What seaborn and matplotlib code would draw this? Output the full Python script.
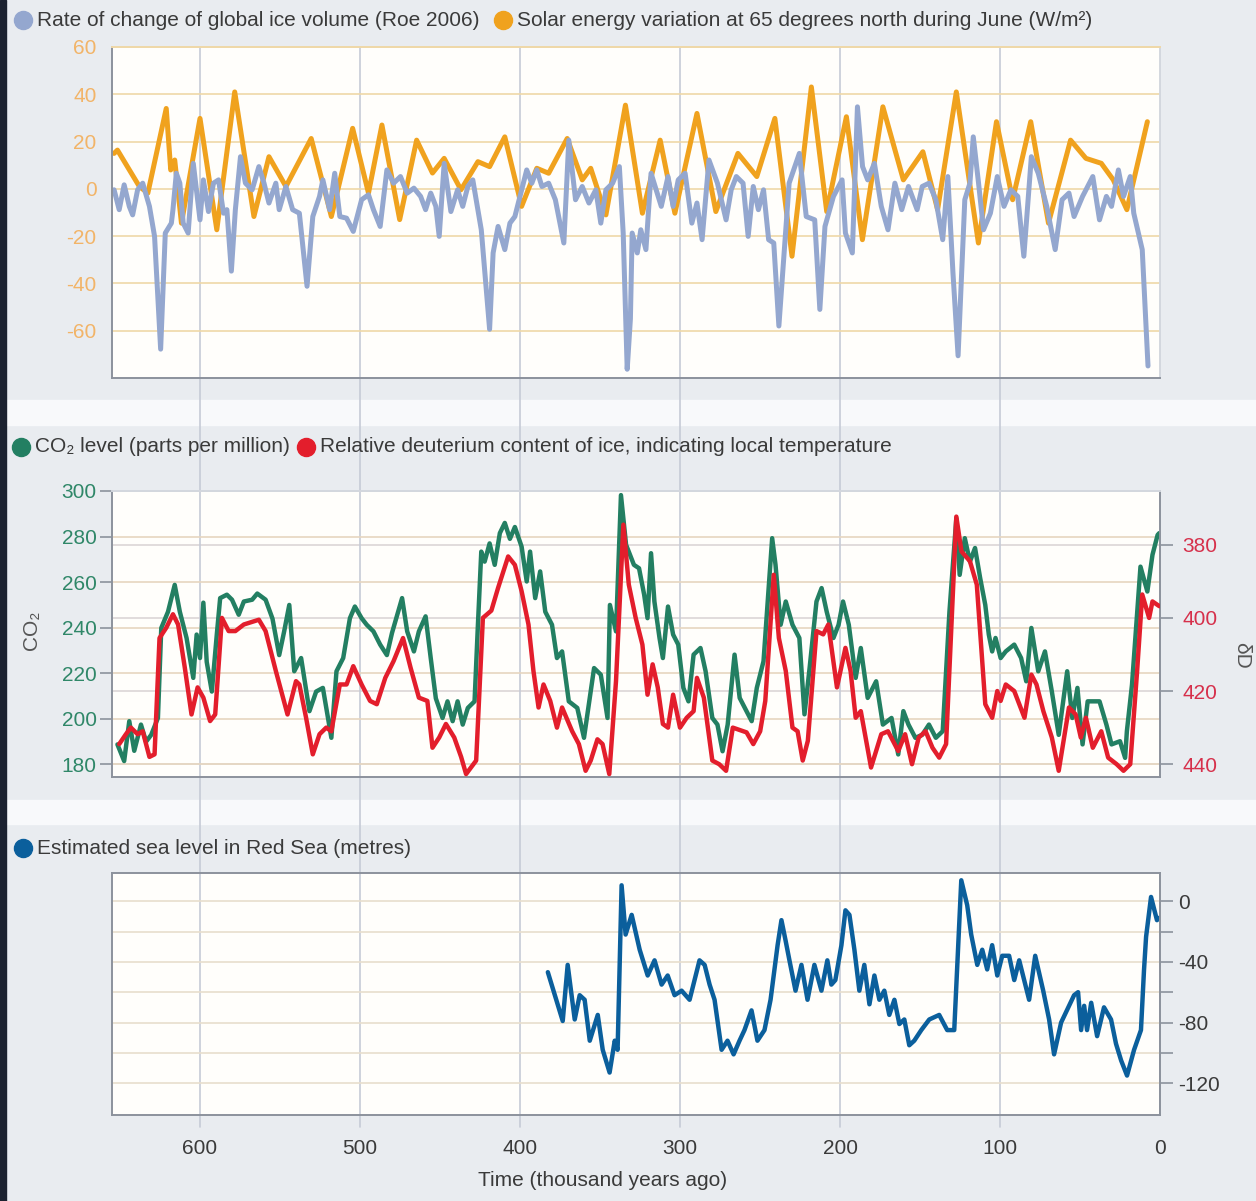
import numpy as np
import pandas as pd
import seaborn as sns
import matplotlib.pyplot as plt
from matplotlib.lines import Line2D
from matplotlib.patches import Rectangle
import matplotlib.transforms as mtransforms

# ---- data (thousand years ago) ----
solar_t = [653.7, 651.6, 637.9, 632.6, 621.1, 618.3, 615.8, 611.6, 600, 589.5, 578.3, 566.3,
           556.9, 546.3, 530.5, 517.9, 504.6, 494.7, 486.3, 475.2, 464.6, 454.7, 447.4, 436.9,
           426.3, 419, 409.5, 399, 389.5, 382.1, 370.5, 361.1, 355.8, 346.3, 334.1,
           323.5, 312.4, 303.2, 289.4, 277.6, 263.8, 252, 240.7, 230, 217.9, 208.3, 196, 186,
           173.2, 160.4, 148.2, 139, 127.3, 113.5, 102.2, 92.1, 80.8, 69.7, 55.9, 46.3, 36.7,
           29.2, 20.7, 7.9]
solar_v = [15, 16.4, 1, -1.8, 34, 8, 12.2, -14.5, 29.8, -17.3, 41, -11.7, 13.6, 1, 21.3, -11.7,
           25.6, -1.8, 27, -13, 20.6, 6.7, 12.9, -0.4, 11.5, 9.4, 22, -7.4, 8.7, 6.6, 21.3, 3.8,
           8.7, -11, 35.4,
           -10.3, 20.6, -10.3, 31.9, -9.6, 15, 5.2, 29.8, -28.5, 43.1, -9.6, 30.5, -21.5, 34.7,
           3.8, 15.7, -8.8, 41, -22.9, 28.4, -4.6, 28.4, -14.5, 20.6, 12.9, 10.8, 3.8, -8.8, 28.4]

ice_t = [653.7, 650.5, 647.4, 644.2, 642.1, 639, 635.8, 631.6, 628.4, 624.6, 621.7, 617.9, 616.9,
         614.8, 612.6, 610.5, 607.4, 604.2, 600, 597.9, 594.7, 591.6, 588.4, 585.3, 583.2, 580.4,
         577.9, 574.7, 571.6, 567.4, 563.2, 560, 556.9, 552.6, 550.5, 546.3, 542.1, 537.9, 533.1,
         529.5, 525.3, 523.2, 519, 515.8, 512.6, 508.4, 504.2, 499, 494.7, 491.6, 487.4, 483.2,
         479, 474.7, 470.5, 466.3, 462.1, 459, 455.8, 452.6, 450.5, 447.4, 443.2, 439, 435.8,
         432.6, 429.5, 424.2, 419, 416.8, 413.7, 409.5, 406.3, 403.2, 400, 395.8, 392.6, 389.5,
         386.3, 382.1, 377.9, 372.6, 369.5, 365.3, 361.1, 356.9, 352.6, 349.5, 346.3, 342.1,
         337.9, 335.5, 333, 331,
         329.9, 326.7, 324.5, 321.3, 318.1, 314.9, 311.7, 307.5, 304.3, 301.1, 296.8, 292.6,
         289.4, 286.2, 281.9, 276.6, 271.2, 268, 264.8, 260.6, 257.4, 254.2, 251, 247.8, 244.6,
         241.4, 238.2, 231.8, 225.4, 221.1, 215.8, 212.6, 209.4, 204.1, 198.7, 196.6, 192.3,
         189.1, 185.9, 182.7, 178.5, 174.2, 170, 165.7, 161.4, 157.2, 151.8, 148.6, 144.4, 140.1,
         135.8, 132.6, 129.4, 126.2, 122, 118.8, 116.7, 113.4, 110.3, 106, 101.7, 97.5, 93.2,
         88.9, 85.1, 80.4, 76.1, 70.8, 65.5, 61.2, 56.9, 53.7, 48.4, 42, 37.8, 33.5, 30.3, 26,
         22.8, 18.6, 16.4, 11.1, 7.5]
ice_v = [-0.4, -8.8, 1.7, -7.4, -11, -0.4, 2.4, -7.4, -20.1, -67.8, -18.7, -14.5, -8.8, 6.6,
         2.4, -14.5, -18.7, 10.8, -13.1, 3.8, -9.6, 2.4, 3.8, -10.3, -8.8, -34.8, -8.8, 13.6,
         2.4, -0.4, 9.4, 2.4, -6, 2.4, -8.8, 1, -8.8, -10.3, -41.2, -11.7, -3.2, 3.8, -8.8, 6.6,
         -11.7, -12.4, -18, -4.6, -2.5, -8.8, -15.9, 8, 2.4, 5.2, -1.8, 0.3, -3.2, -8.8, -1.8,
         -7.4, -20.1, 10.8, -9.6, -0.4, -7.4, 1, 3.8, -17.3, -59.4, -27.1, -15.9, -25.7, -14.5,
         -11.7, -3.2, 8, 2.4, 8, 1, 2.4, -4.6, -22.9, 20.6, -4.6, 1, -6, -0.4, -14.5, -0.4, 2.4,
         9.4, -18.7, -76.3, -55,
         -18.7, -27.1, -17.3, -25.7, 6.6, -0.4, -7.4, 5.2, -7.4, 3.8, 6.6, -14.5, -6, -21.5,
         12.2, 2.4, -13.1, -0.4, 5.2, 2.4, -20.1, 1, -8.8, -0.4, -21.5, -22.9, -58, 2.4, 15,
         -11.7, -13.1, -51, -15.9, -3.2, 3.8, -18.7, -27.1, 34.7, 9.4, 3.8, 10.8, -7.4, -17.3,
         2.4, -8.8, 1, -8.8, 1, 2.4, -4.6, -21.5, 5.2, -35.5, -70.6, -4.6, 2.4, 22, 2.4, -17.3,
         -10.3, 5.2, -7.4, -0.4, -3.2, -28.5, 13.6, 6.6, -7.4, -25.7, -4.6, -1.8, -11.7, -3.2,
         5.2, -13.1, -3.2, -7.4, 8, -3.2, 5.2, -10.3, -25.7, -74.9]

co2_t = [651.6, 647.4, 644.2, 641.1, 636.9, 633.7, 630.5, 626.3, 624.2, 620, 615.8, 612.6, 608.4,
         604.2, 602.1, 600, 597.9, 595.8, 592.6, 589.5, 587.4, 583.2, 580, 575.8, 572.6, 567.4,
         564.2, 559, 554.7, 550.5, 547.4, 544.2, 541.1, 536.8, 531.6, 527.4, 523.2, 517.9, 514.7,
         510.5, 506.3, 503.2, 499, 495.8, 491.6, 487.4, 483.2, 480, 473.7, 470.5, 466.3, 463.2,
         459, 455.8, 452.6, 448.4, 445.3, 442.1, 439, 435.8, 432.6, 428.4, 426.3, 424.2, 422.1,
         419, 415.8, 412.6, 409.5, 406.3, 403.2, 399, 395.8, 393.7, 390.5, 387.4, 384.2, 380,
         376.9, 373.7, 369.5, 364.2, 360, 353.7, 349.5, 345.3, 343.8, 340, 336.9, 333.7,
         328.8, 325.6, 322.4, 320.3, 318.1, 316, 312.8, 310.7, 307.5, 304.3, 301.1, 297.9, 294.7,
         291.5, 287.2, 284, 279.8, 276.6, 273.4, 270.2, 265.9, 262.7, 258.4, 255.2, 252, 247.8,
         242.4, 240.3, 237.1, 233.9, 229.7, 225.4, 222.2, 219, 214.7, 211.5, 208.3, 204.1, 200.9,
         198.1, 194.5, 190.2, 187, 182.7, 177.4, 173.2, 167.8, 163.6, 160.4, 157.2, 152.9, 148.6,
         144.4, 140.1, 135.8, 131.6, 127.3, 125.2, 122, 118.8, 115.6, 112.4, 109.2, 107, 104.9,
         102.8, 99.6, 96.4, 91.1, 86.8, 83.6, 80.4, 76.1, 71.9, 67.6, 63.3, 58, 54.8, 51.6, 48.4,
         45.2, 37.8, 33.5, 30.3, 25, 21.8, 20.7, 17.5, 12.2, 7.9, 4.7, 1.5, 0.5]
co2_v = [188.8, 181.5, 199, 186, 197.5, 190, 193, 200.4, 239.9, 247, 258.8, 247, 235.5, 218, 237,
         226.7, 251, 225, 212, 237, 253, 254.5, 252.3, 245.7, 251.5, 252.3, 255, 252.3, 244, 228,
         238.4, 250, 220.9, 226.7, 203.4, 212, 213.6, 191.7, 220.9, 226.7, 244.2, 249.3, 244.2,
         241.3, 238.4, 232.6, 228, 237.7, 253, 238.4, 229.6, 238.4, 245, 226.7, 209, 200.4,
         207.7, 199, 207.7, 197.5, 204.8, 207.7, 241.3, 273.4, 269, 277, 267.6, 281.5, 286, 279,
         284.2, 275.6, 260.3, 273.4, 253, 264.7, 247, 241.3, 226.7, 229.6, 207.7, 204.8, 191.7,
         222.3, 219.4, 200.4, 250, 238.4, 298.2, 276.4,
         267.6, 266.1, 254.5, 244.2, 272.7, 251.5, 235.5, 226.7, 249.3, 237, 232.6, 213.6,
         207.7, 228.2, 231.1, 220.9, 200.4, 197.5, 185.8, 197.5, 228.2, 209.2, 203.4, 199,
         213.6, 225.3, 279.3, 267.6, 241.3, 251.5, 241.3, 235.5, 202, 222.3, 251.5, 257.4, 247,
         235.5, 241.3, 251.5, 241.3, 218, 231.1, 209.2, 216.5, 197.5, 200.4, 184.4, 203.4,
         197.5, 191.7, 193, 197.5, 191.7, 194.6, 247, 288, 263.2, 279.3, 269, 275, 261.8, 250,
         237, 229.6, 235.5, 226.7, 229.6, 232.6, 226.7, 216.5, 239.9, 220.9, 229.6, 212, 193,
         220.9, 200.4, 213.6, 188.8, 207.7, 207.7, 197.5, 188.8, 190.2, 182.9, 194.6, 215,
         266.8, 255.9, 272, 280.7, 281.5]

dd_t = [650.5, 646.3, 643.2, 639, 635.8, 631.6, 628.4, 625.3, 621.1, 616.9, 613.7, 609.5, 605.3,
        601.5, 597.9, 593.7, 590.5, 586.3, 582.1, 577.9, 572.6, 563.2, 559, 552.6, 545.3, 540,
        537.9, 533.7, 529.5, 525.3, 521.1, 517.9, 512.6, 508.4, 504.2, 499, 493.7, 489.5, 484.2,
        479, 473.1, 468.4, 463.2, 457.9, 454.7, 450.5, 446.3, 441.1, 436.8, 433.7, 427.4, 423.2,
        417.9, 413.7, 407.4, 403.2, 399, 394.7, 391.6, 388.4, 385.3, 381.1, 376.9, 373.7, 367.4,
        363.2, 359, 355.8, 351.6, 348.4, 344.2, 340, 335.4,
        332, 327.7, 323.5, 320.3, 317.1, 313.9, 310.7, 307.5, 304.3, 300, 295.8, 291.5, 289.4,
        285.1, 279.8, 275.5, 271.2, 267, 258.4, 254.2, 249.9, 246.7, 241.4, 238.2, 233.9, 229.7,
        226.5, 223.3, 220.1, 214.7, 210.5, 207.3, 201.9, 196.6, 193.4, 190.2, 187, 180.6, 174.2,
        170, 163.6, 159.3, 155, 150.8, 146.5, 142.2, 138, 133.7, 127.3, 124.1, 118.8, 114.5,
        109.2, 104.9, 101.7, 99.6, 96.4, 91.1, 84.7, 80.4, 77.2, 72.9, 67.6, 63.3, 56.9, 52.7,
        49.5, 46.3, 42, 36.7, 32.4, 27.1, 22.8, 18.6, 14.3, 11.1, 6.8, 4.7, 0.4]
dd_v = [434.5, 431.8, 430, 431.8, 431, 438, 437.3, 405.5, 402.7, 399, 401.8, 413.6, 426.4, 419,
        421.8, 428.2, 426.4, 400, 403.6, 403.6, 401.8, 400.5, 403.6, 414.5, 426.4, 417.3, 418.2,
        427.3, 437.3, 431.8, 430, 431, 418.2, 418.2, 413.2, 418.2, 422.7, 423.6, 416.4, 411.8,
        405.5, 413.6, 421.8, 422.7, 435.5, 432.7, 429, 432.7, 438, 442.7, 439, 400, 398, 391.8,
        383.2, 385.5, 392.7, 401.8, 414.5, 424.5, 418.2, 422.7, 430, 424.5, 431, 434.5, 441.8,
        439, 433.2, 434.5, 442.7, 417.3, 374.5,
        390.9, 400, 407.3, 421, 412.7, 419, 429, 430, 421, 430, 427.3, 425.5, 416.4, 421.8, 439,
        440, 441.8, 430, 431.3, 434.5, 431, 422.7, 388.2, 405.5, 414.5, 430, 431, 439, 433.6,
        403.6, 404.5, 401.8, 419, 408.2, 414.5, 427.3, 425.5, 440.9, 431.8, 431, 436.4, 431.8,
        440, 432.7, 431, 435.5, 438.2, 434.5, 372.3, 381.8, 384.5, 390.9, 423.6, 427.3, 420,
        422.7, 418.2, 420, 427.3, 415.5, 418.2, 425.5, 432.7, 441.8, 424.5, 426.4, 432.7, 427.3,
        435.5, 431, 438.2, 440, 441.8, 440, 414.5, 393.6, 400, 395.5, 396.8]

sea_t = [382.6, 373.3, 370.2, 365.8, 362.7, 359.6, 356.4, 351.4, 348.3, 344, 340.8, 339, 336.5,
         334, 330.2, 325.2, 320.2, 315.9, 311.5, 307.7, 303.4, 299, 294, 287.8, 284.6, 281.5,
         278.4, 274, 270.3, 266.5, 262.8, 259.7, 255.3, 251.6, 247.2, 243.4, 239, 236.6, 234,
         231.6, 227.8, 224.1, 220.3, 216, 211.6, 207.9, 205.4, 202.9, 199.1, 196.6, 194.1, 191,
         187.9, 184.8, 181.6, 178.5, 175.4, 172.3, 169.2, 166, 162.9, 159.8, 156.7, 153.6, 149.2,
         144.2, 138, 133, 128.6, 124.2, 120.5, 118, 114.2, 111.1, 108, 104.9, 101.7, 98.6, 94.3,
         91.1, 88, 84.9, 81.8, 78, 73, 69.3, 66.2, 61.8, 53.7, 51.2, 49.3, 47.4, 45.6, 43, 39.3,
         35, 30.6, 27.5, 24.3, 20.6, 16.2, 11.9, 10, 8.7, 5.6, 1.9, 0.6]
sea_v = [-46.8, -79, -42, -78, -62, -65, -92, -75, -98, -113, -92, -98, 10.5, -22, -9, -32, -49,
         -39, -55, -49, -62, -59, -65, -39, -42, -55, -65, -98, -92, -101, -92, -85, -72, -92, -85,
         -65, -29, -12.5, -26, -39, -59, -42, -65, -42, -59, -39, -55, -52, -29, -6, -9, -32, -59,
         -42, -68, -49, -65, -59, -75, -65, -81, -78, -95, -92, -85, -78, -75, -85, -85, 13.8,
         -2.6, -22, -42, -32, -45, -29, -49, -36, -36, -52, -39, -52, -65, -36, -59, -78, -101,
         -80, -62, -60, -85, -69, -85, -67, -89, -70, -78, -94, -105, -115, -98, -85, -45.5,
         -23.5, 2.8, -12.5, -11]

time_ticks = [600, 500, 400, 300, 200, 100, 0]

# ---- styling ----
sns.set_style("white")
plt.rcParams['font.family'] = ['Liberation Sans', 'DejaVu Sans']
plt.rcParams['axes.unicode_minus'] = False

W, H = 1256, 1201
fx = lambda px: px / W
fy = lambda py: 1 - py / H

BG = '#e9ecf0'
GRIDV = '#c6cbd6'
SPINE = '#8c929c'
TXT = '#3a3a3a'
FS = 15

fig = plt.figure(figsize=(W / 100, H / 100), dpi=100)
fig.patch.set_facecolor(BG)
for top, bot in [(400, 425), (800, 824)]:
    fig.add_artist(Rectangle((0, fy(bot)), 1, (bot - top) / H, transform=fig.transFigure,
                             color='#f8f9fb', zorder=-3))
fig.add_artist(Rectangle((0, 0), 6 / W, 1, transform=fig.transFigure, color='#1c2230', zorder=-3))


def make_ax(top, bot):
    ax = fig.add_axes([fx(112), fy(bot), fx(1160) - fx(112), (bot - top) / H])
    ax.set_facecolor('#fffefb')
    ax.set_xlim(655, 0)
    ax.set_xticks(time_ticks[:-1])
    ax.xaxis.grid(True, color=GRIDV, lw=1.2)
    ax.set_axisbelow(True)
    for s in ax.spines.values():
        s.set_color(SPINE)
        s.set_linewidth(1.4)
    return ax


ax1 = make_ax(47, 378)
ax2 = make_ax(491, 777)
ax3 = make_ax(873, 1115)

# vertical time lines running through the gaps between panels
blend = mtransforms.blended_transform_factory(ax3.transData, fig.transFigure)
for t in time_ticks[:-1]:
    fig.add_artist(Line2D([t, t], [fy(1127), fy(47)], transform=blend, color=GRIDV,
                          lw=1.2, zorder=-1))

# ---- panel 1: ice volume + solar ----
sns.lineplot(x=solar_t, y=solar_v, ax=ax1, color='#f0a21e', linewidth=3.6, sort=False,
             estimator=None)
sns.lineplot(x=ice_t, y=ice_v, ax=ax1, color='#94a7cf', linewidth=3.6, sort=False,
             estimator=None)
ax1.set_ylim(-80, 60)
ax1.set_yticks([60, 40, 20, 0, -20, -40, -60])
ax1.yaxis.grid(True, color='#efd8a8', lw=1.2)
ax1.spines['top'].set_color('#efd8a8')
ax1.spines['right'].set_color('#d3d7de')
ax1.tick_params(axis='y', length=9, width=1.2, color=SPINE, labelcolor='#f2b468',
                labelsize=FS, pad=2)
ax1.tick_params(axis='x', length=0, labelbottom=False)

# ---- panel 2: CO2 + deuterium ----
sns.lineplot(x=co2_t, y=co2_v, ax=ax2, color='#237f62', linewidth=3.2, sort=False,
             estimator=None)
ax2.set_ylim(174.5, 300)
ax2.set_yticks([300, 280, 260, 240, 220, 200, 180])
ax2.yaxis.grid(True, color='#e6d6c0', lw=1.2)
ax2.spines['top'].set_color('#d3d7de')
ax2.tick_params(axis='y', length=9, width=1.2, color=SPINE, labelcolor='#2f8768',
                labelsize=FS, pad=2)
ax2.tick_params(axis='x', length=0, labelbottom=False)

ax2b = ax2.twinx()
sns.lineplot(x=dd_t, y=dd_v, ax=ax2b, color='#e31e2c', linewidth=3.2, sort=False,
             estimator=None)
ax2b.set_xlim(655, 0)
ax2b.set_ylim(443.5, 365.3)
ax2b.set_yticks([380, 400, 420, 440])
ax2b.grid(False)
for s in ax2b.spines.values():
    s.set_visible(False)
ax2b.tick_params(axis='y', length=9, width=1.2, color=SPINE, labelcolor='#d6304b',
                 labelsize=FS, pad=7)
dd_blend = mtransforms.blended_transform_factory(ax2.transAxes, ax2b.transData)
for v in [380, 400, 420, 440]:
    ax2.add_line(Line2D([0, 1], [v, v], transform=dd_blend, color='#dcd6d6', lw=1.2,
                        zorder=0.5))

# ---- panel 3: sea level ----
sns.lineplot(x=sea_t, y=sea_v, ax=ax3, color='#0b5f9c', linewidth=3.2, sort=False,
             estimator=None)
ax3.set_ylim(-141, 18.6)
ax3.yaxis.tick_right()
ax3.set_yticks([0, -40, -80, -120])
ax3.set_yticks([-20, -60, -100], minor=True)
ax3.yaxis.grid(True, which='both', color='#e8decd', lw=1.2)
ax3.tick_params(axis='y', which='both', length=9, width=1.2, color=SPINE, labelcolor=TXT,
                labelsize=FS, pad=4)
ax3.set_xticks(time_ticks)
ax3.set_xticklabels([str(t) for t in time_ticks])
ax3.tick_params(axis='x', length=0, labelsize=FS, labelcolor=TXT, pad=17)

for ax in (ax1, ax2, ax3, ax2b):
    ax.set_xlabel('')
    ax.set_ylabel('')

# ---- legends and labels ----
def legend_item(x, y, color, text):
    fig.add_artist(Line2D([fx(x)], [fy(y)], marker='o', ms=13, color=color, lw=0,
                          transform=fig.transFigure))
    fig.text(fx(x + 14), fy(y), text, ha='left', va='center', fontsize=FS, color=TXT)


legend_item(23, 20, '#94a7cf', 'Rate of change of global ice volume (Roe 2006)')
legend_item(503, 20, '#f0a21e', 'Solar energy variation at 65 degrees north during June (W/m²)')
legend_item(21, 447, '#237f62', 'CO₂ level (parts per million)')
legend_item(306, 447, '#e31e2c', 'Relative deuterium content of ice, indicating local temperature')
legend_item(23, 848, '#0b5f9c', 'Estimated sea level in Red Sea (metres)')

fig.text(fx(31), fy(630), 'CO₂', rotation=90, ha='center', va='center', fontsize=FS,
         color='#555555')
fig.text(fx(1242), fy(655), 'δD', rotation=270, ha='center', va='center', fontsize=FS,
         color='#555555')
fig.text(fx(603), fy(1181), 'Time (thousand years ago)', ha='center', va='center',
         fontsize=FS, color=TXT)

fig.savefig('out.png', dpi=100, facecolor=fig.get_facecolor())
